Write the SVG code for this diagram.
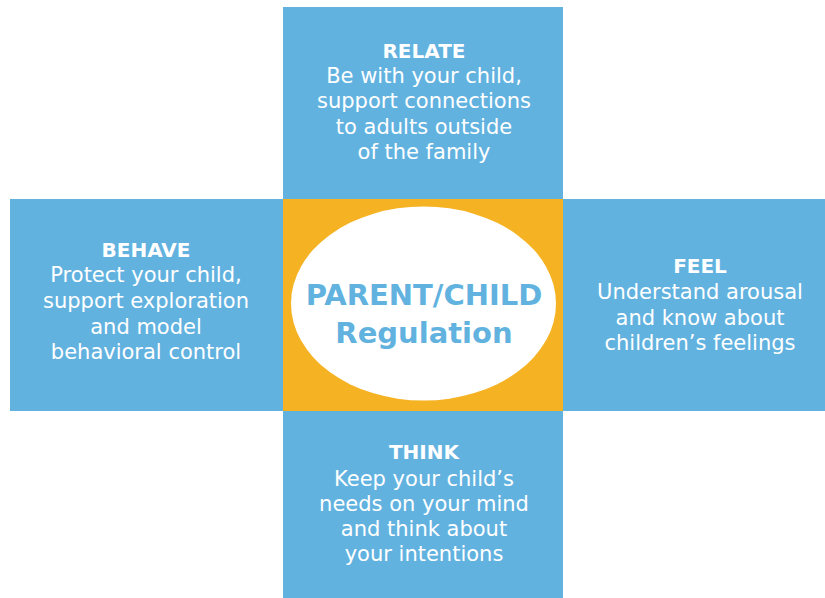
<svg xmlns="http://www.w3.org/2000/svg" width="825" height="598" viewBox="0 0 825 598">
<style>
.box{fill:#62B2E0}
.hd{font-family:"DejaVu Sans",sans-serif;font-weight:bold;font-size:20px;fill:#ffffff;text-anchor:middle}
.tx{font-family:"DejaVu Sans",sans-serif;font-size:21px;fill:#ffffff;text-anchor:middle}
.ct{font-family:"DejaVu Sans",sans-serif;font-weight:bold;font-size:29px;fill:#62B2E0;text-anchor:middle}
</style>
<rect width="825" height="598" fill="#ffffff"/>
<g id="connectors"/>
<g id="relate">
<rect class="box" x="283" y="7" width="280" height="192"/>
<text class="hd" x="424" y="58">RELATE</text>
<text class="tx" x="424" y="83">Be with your child,</text>
<text class="tx" x="424" y="108">support connections</text>
<text class="tx" x="424" y="134">to adults outside</text>
<text class="tx" x="424" y="159">of the family</text>
</g>
<g id="behave">
<rect class="box" x="10" y="199" width="273" height="212"/>
<text class="hd" x="146" y="257">BEHAVE</text>
<text class="tx" x="146" y="282">Protect your child,</text>
<text class="tx" x="146" y="308">support exploration</text>
<text class="tx" x="146" y="334">and model</text>
<text class="tx" x="146" y="359">behavioral control</text>
</g>
<g id="feel">
<rect class="box" x="563" y="199" width="262" height="212"/>
<text class="hd" x="700" y="273">FEEL</text>
<text class="tx" x="700" y="299">Understand arousal</text>
<text class="tx" x="700" y="325">and know about</text>
<text class="tx" x="700" y="350">children’s feelings</text>
</g>
<g id="think">
<rect class="box" x="283" y="411" width="280" height="187"/>
<text class="hd" x="424" y="459">THINK</text>
<text class="tx" x="424" y="486">Keep your child’s</text>
<text class="tx" x="424" y="511">needs on your mind</text>
<text class="tx" x="424" y="536">and think about</text>
<text class="tx" x="424" y="561">your intentions</text>
</g>
<g id="center">
<rect x="283" y="199" width="280" height="212" fill="#F5B324"/>
<ellipse cx="423.5" cy="303.5" rx="132.5" ry="97" fill="#ffffff"/>
<text class="ct" x="424" y="305">PARENT/CHILD</text>
<text class="ct" x="424" y="343">Regulation</text>
</g>
</svg>
